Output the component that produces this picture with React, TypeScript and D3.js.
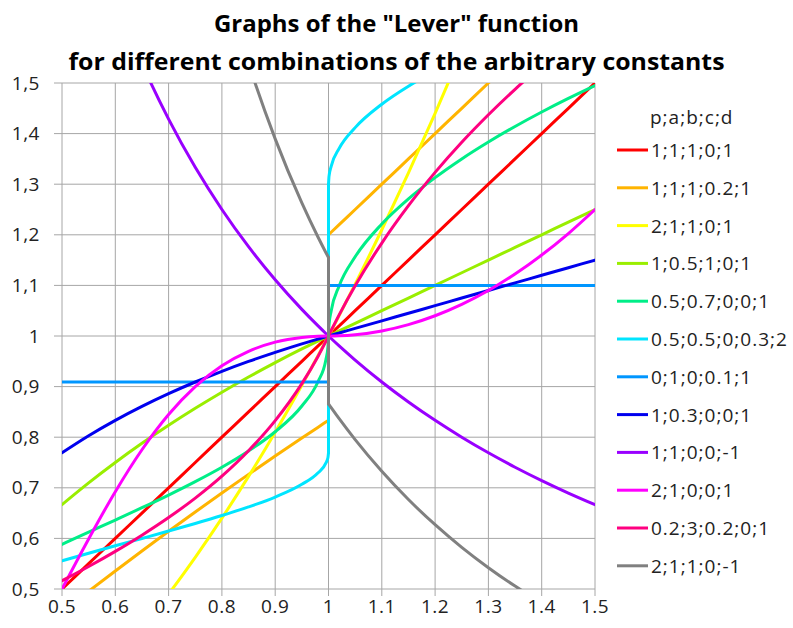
import React from "react";
import * as d3 from "d3";

// ---------- data ----------
const titleLines = ['Graphs of the "Lever" function', "for different combinations of the arbitrary constants"];
const legendTitle = "p;a;b;c;d";

const xTicks = [0.5, 0.6, 0.7, 0.8, 0.9, 1, 1.1, 1.2, 1.3, 1.4, 1.5];
const xTickLabels = ["0.5", "0.6", "0.7", "0.8", "0.9", "1", "1.1", "1.2", "1.3", "1.4", "1.5"];
const yTicks = [0.5, 0.6, 0.7, 0.8, 0.9, 1, 1.1, 1.2, 1.3, 1.4, 1.5];
const yTickLabels = ["0,5", "0,6", "0,7", "0,8", "0,9", "1", "1,1", "1,2", "1,3", "1,4", "1,5"];

// sample abscissas, left of x = 1 and right of x = 1
const xsLeft = [0.5, 0.55, 0.6, 0.65, 0.7, 0.75, 0.8, 0.85, 0.9, 0.95, 0.98, 0.995, 0.999, 1];
const xsRight = [1, 1.001, 1.005, 1.02, 1.05, 1.1, 1.15, 1.2, 1.25, 1.3, 1.35, 1.4, 1.45, 1.5];

const seriesNames = [
  "1;1;1;0;1", "1;1;1;0.2;1", "2;1;1;0;1", "1;0.5;1;0;1", "0.5;0.7;0;0;1", "0.5;0.5;0;0.3;2",
  "0;1;0;0.1;1", "1;0.3;0;0;1", "1;1;0;0;-1", "2;1;0;0;1", "0.2;3;0.2;0;1", "2;1;1;0;-1",
];

const redL = [0.5, 0.55, 0.6, 0.65, 0.7, 0.75, 0.8, 0.85, 0.9, 0.95, 0.98, 0.995, 0.999, 1];
const redR = [1, 1.001, 1.005, 1.02, 1.05, 1.1, 1.15, 1.2, 1.25, 1.3, 1.35, 1.4, 1.45, 1.5];
const orangeL = [0.4545, 0.4955, 0.5357, 0.5752, 0.614, 0.6522, 0.6897, 0.7265, 0.7627, 0.7983, 0.8194, 0.8299, 0.8326, 0.8333];
const orangeR = [1.2, 1.201, 1.205, 1.22, 1.25, 1.3, 1.35, 1.4, 1.45, 1.5, 1.55, 1.6, 1.65, 1.7];
const yellowL = [0.25, 0.3025, 0.36, 0.4225, 0.49, 0.5625, 0.64, 0.7225, 0.81, 0.9025, 0.9604, 0.99, 0.998, 1];
const yellowR = [1, 1.002, 1.01, 1.0404, 1.1025, 1.21, 1.3225, 1.44, 1.5625, 1.69, 1.8225, 1.96, 2.1025, 2.25];
const limeL = [0.6667, 0.7097, 0.75, 0.7879, 0.8235, 0.8571, 0.8889, 0.9189, 0.9474, 0.9744, 0.9899, 0.9975, 0.9995, 1];
const limeR = [1, 1.0005, 1.0025, 1.01, 1.025, 1.05, 1.075, 1.1, 1.125, 1.15, 1.175, 1.2, 1.225, 1.25];
const springL = [0.5882, 0.6123, 0.6363, 0.6606, 0.6857, 0.7122, 0.7407, 0.7728, 0.8108, 0.8616, 0.9091, 0.9527, 0.9783, 1];
const springR = [1, 1.0221, 1.0495, 1.099, 1.1565, 1.2214, 1.2711, 1.313, 1.35, 1.3834, 1.4141, 1.4427, 1.4696, 1.495];
const cyanL = [0.5556, 0.5707, 0.5854, 0.5999, 0.6145, 0.6295, 0.6452, 0.6622, 0.6818, 0.7069, 0.7292, 0.7488, 0.76, 0.7692];
const cyanR = [1.3, 1.3158, 1.3354, 1.3707, 1.4118, 1.4581, 1.4937, 1.5236, 1.55, 1.5739, 1.5958, 1.6162, 1.6354, 1.6536];
const azureL = [0.9091, 0.9091, 0.9091, 0.9091, 0.9091, 0.9091, 0.9091, 0.9091, 0.9091, 0.9091, 0.9091, 0.9091, 0.9091, 0.9091];
const azureR = [1.1, 1.1, 1.1, 1.1, 1.1, 1.1, 1.1, 1.1, 1.1, 1.1, 1.1, 1.1, 1.1, 1.1];
const blueL = [0.7692, 0.8029, 0.8333, 0.8609, 0.8861, 0.9091, 0.9302, 0.9497, 0.9677, 0.9845, 0.9939, 0.9985, 0.9997, 1];
const blueR = [1, 1.0003, 1.0015, 1.006, 1.015, 1.03, 1.045, 1.06, 1.075, 1.09, 1.105, 1.12, 1.135, 1.15];
const violetL = [2, 1.8182, 1.6667, 1.5385, 1.4286, 1.3333, 1.25, 1.1765, 1.1111, 1.0526, 1.0204, 1.005, 1.001, 1];
const violetR = [1, 0.999, 0.995, 0.9804, 0.9524, 0.9091, 0.8696, 0.8333, 0.8, 0.7692, 0.7407, 0.7143, 0.6897, 0.6667];
const magentaL = [0.5, 0.599, 0.6923, 0.7752, 0.8448, 0.9, 0.9412, 0.9698, 0.9878, 0.9972, 0.9996, 1, 1, 1];
const magentaR = [1, 1, 1, 1.0004, 1.0025, 1.01, 1.0225, 1.04, 1.0625, 1.09, 1.1225, 1.16, 1.2025, 1.25];
const pinkL = [0.5163, 0.5445, 0.5744, 0.6064, 0.6412, 0.6797, 0.7231, 0.7733, 0.8327, 0.9058, 0.9591, 0.9893, 0.9978, 1];
const pinkR = [1, 1.0022, 1.0108, 1.0418, 1.0992, 1.1837, 1.2575, 1.3233, 1.3829, 1.4373, 1.4876, 1.5343, 1.578, 1.6191];
const grayL = [4.155, 3.4608, 2.9328, 2.5219, 2.1958, 1.9328, 1.7175, 1.5391, 1.3896, 1.263, 1.1962, 1.1651, 1.157, 1.155];
const grayR = [0.8658, 0.8643, 0.8584, 0.8365, 0.7952, 0.7326, 0.6768, 0.627, 0.5822, 0.542, 0.5057, 0.4728, 0.443, 0.4158];

const leftValues = [redL, orangeL, yellowL, limeL, springL, cyanL, azureL, blueL, violetL, magentaL, pinkL, grayL];
const rightValues = [redR, orangeR, yellowR, limeR, springR, cyanR, azureR, blueR, violetR, magentaR, pinkR, grayR];

const colors = [
  "#ff0000", "#ffb400", "#ffff00", "#99ee00", "#00ee88", "#00e5ff",
  "#0096ff", "#0000ee", "#9900ff", "#ff00ff", "#ff0080", "#808080",
];

// ---------- layout ----------
const W = 793;
const H = 628;
const L = 62, R = 595, T = 83, B = 589;
const FONT = "'Open Sans', 'DejaVu Sans', sans-serif";

export default function App() {
  const x = d3.scaleLinear().domain([0.5, 1.5]).range([L, R]);
  const y = d3.scaleLinear().domain([0.5, 1.5]).range([B, T]);
  const line = d3
    .line<[number, number]>()
    .x((d) => x(d[0]))
    .y((d) => y(d[1]))
    .curve(d3.curveMonotoneX);

  const legendX = 617;
  const legendY0 = 150;
  const legendStep = 37.8;

  return (
    <svg
      width={W}
      height={H}
      viewBox={`0 0 ${W} ${H}`}
      style={{ position: "absolute", left: 0, top: 0, background: "#fff" }}
    >
      <rect x={0} y={0} width={W} height={H} fill="#fff" />
      <defs>
        <clipPath id="plotclip">
          <rect x={L} y={T} width={R - L} height={B - T} />
        </clipPath>
      </defs>

      {/* title */}
      <text x={396.5} y={32} textAnchor="middle" fontFamily={FONT} fontWeight="bold" fontSize={24} fill="#000"
        textLength={365} lengthAdjust="spacingAndGlyphs">
        {titleLines[0]}
      </text>
      <text x={396.5} y={70} textAnchor="middle" fontFamily={FONT} fontWeight="bold" fontSize={24} fill="#000"
        textLength={656} lengthAdjust="spacingAndGlyphs">
        {titleLines[1]}
      </text>

      {/* grid */}
      {xTicks.map((v) => (
        <line key={"gx" + v} x1={x(v)} x2={x(v)} y1={T} y2={B + 7} stroke="#a6a6a6" strokeWidth={1} />
      ))}
      {yTicks.map((v) => (
        <line key={"gy" + v} x1={L - 8} x2={R} y1={y(v)} y2={y(v)} stroke="#a6a6a6" strokeWidth={1} />
      ))}

      {/* tick labels */}
      {xTicks.map((v, i) => (
        <text key={"tx" + v} x={x(v)} y={613} textAnchor="middle" fontFamily={FONT} fontSize={19}
          letterSpacing={0.5} fill="#222">
          {xTickLabels[i]}
        </text>
      ))}
      {yTicks.map((v, i) => (
        <text key={"ty" + v} x={40} y={y(v) + 6.5} textAnchor="end" fontFamily={FONT} fontSize={19}
          letterSpacing={0.5} fill="#222">
          {yTickLabels[i]}
        </text>
      ))}

      {/* series */}
      <g clipPath="url(#plotclip)">
        {seriesNames.map((name, i) => {
          const lp = xsLeft.map((xv, j) => [xv, leftValues[i][j]] as [number, number]);
          const rp = xsRight.map((xv, j) => [xv, rightValues[i][j]] as [number, number]);
          const yl = leftValues[i][leftValues[i].length - 1];
          const yr = rightValues[i][0];
          return (
            <g key={name} fill="none" stroke={colors[i]} strokeWidth={3} strokeLinejoin="round" strokeLinecap="round">
              <path d={line(lp) || ""} />
              <line x1={x(1)} x2={x(1)} y1={y(yl)} y2={y(yr)} />
              <path d={line(rp) || ""} />
            </g>
          );
        })}
      </g>

      {/* legend */}
      <text x={650} y={124} fontFamily={FONT} fontSize={19} letterSpacing={1} fill="#222">
        {legendTitle}
      </text>
      {seriesNames.map((name, i) => {
        const cy = legendY0 + i * legendStep;
        return (
          <g key={"lg" + name}>
            <line x1={legendX} x2={legendX + 31} y1={cy} y2={cy} stroke={colors[i]} strokeWidth={3} />
            <text x={651} y={cy + 7} fontFamily={FONT} fontSize={19} letterSpacing={1} fill="#222">
              {name}
            </text>
          </g>
        );
      })}
    </svg>
  );
}
